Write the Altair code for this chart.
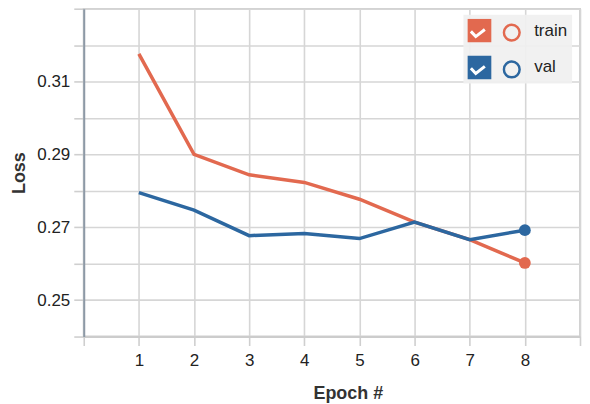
import altair as alt
import pandas as pd

# ---- data ----
epochs = [1, 2, 3, 4, 5, 6, 7, 8]
train_loss = [0.3176, 0.2900, 0.2844, 0.2823, 0.2777, 0.2714, 0.2666, 0.2602]
val_loss = [0.2795, 0.2747, 0.2677, 0.2683, 0.2669, 0.2714, 0.2666, 0.2692]
series_names = ["train", "val"]
series_colors = ["#E2694F", "#2C67A0"]
x_ticks = [0, 1, 2, 3, 4, 5, 6, 7, 8, 9]
y_ticks = [0.24, 0.25, 0.26, 0.27, 0.28, 0.29, 0.30, 0.31, 0.32, 0.33]

rows = []
for name, vals in zip(series_names, [train_loss, val_loss]):
    for e, v in zip(epochs, vals):
        rows.append({"epoch": e, "loss": v, "series": name})
df = pd.DataFrame(rows)

FONT = "Liberation Sans"
check_path = "M-1,-0.25 L-0.3,0.5 L1,-0.52"
sq_names = [s + "_sq" for s in series_names]
ck_names = [s + "_ck" for s in series_names]

x_enc = alt.X(
    "epoch:Q",
    scale=alt.Scale(domain=[0, 9], nice=False, zero=False),
    axis=alt.Axis(
        values=x_ticks,
        title="Epoch #",
        labelExpr="datum.value >= 1 && datum.value <= 8 ? datum.label : ''",
        grid=True,
        tickSize=9,
        labelPadding=7,
        domainColor="#cccccc",
        titleX=265,
        titleY=62,
        titleAlign="center",
        titleBaseline="alphabetic",
    ),
)
y_enc = alt.Y(
    "loss:Q",
    scale=alt.Scale(domain=[0.24, 0.33], nice=False, zero=False),
    axis=alt.Axis(
        values=y_ticks,
        title="Loss",
        labelExpr="(round(datum.value * 100) % 2 == 1 && datum.value < 0.32) ? format(datum.value, '.2f') : ''",
        grid=True,
        tickSize=10,
        labelPadding=4,
        domainColor="#8d99a6",
        titleX=-64,
        titleBaseline="middle",
    ),
)

# filled end points (legend: background box, coloured squares and the labels)
dots = alt.Chart(df).transform_filter(
    alt.datum.epoch == max(epochs)
).transform_calculate(ser1="datum.series + '_sq'").mark_circle(size=140, opacity=1).encode(
    x=x_enc,
    y=y_enc,
    color=alt.Color(
        "ser1:N",
        scale=alt.Scale(domain=sq_names, range=series_colors),
        legend=alt.Legend(
            title=None,
            orient="none",
            legendX=381,
            legendY=6,
            padding=4,
            fillColor="rgba(240,240,240,0.92)",
            symbolType="square",
            symbolSize=576,
            symbolStrokeWidth=0,
            clipHeight=24,
            rowPadding=13,
            labelOffset=43,
            labelExpr="replace(datum.label, '_sq', '')",
            labelColor="#222222",
            labelFontSize=17,
            labelFont=FONT,
        ),
    ),
)

# lines (legend: outlined circles)
lines = alt.Chart(df).mark_line(strokeWidth=3.5).encode(
    x=x_enc,
    y=y_enc,
    stroke=alt.Stroke(
        "series:N",
        scale=alt.Scale(domain=series_names, range=series_colors),
        legend=alt.Legend(
            title=None,
            orient="none",
            legendX=420,
            legendY=12,
            padding=0,
            symbolType="circle",
            symbolSize=250,
            symbolStrokeWidth=2.5,
            symbolFillColor="transparent",
            clipHeight=24,
            rowPadding=13,
            labelExpr="''",
            labelFontSize=1,
        ),
    ),
)

# empty layer that only provides the white check marks in the legend
checks = alt.Chart(df).transform_filter("datum.epoch > 100").transform_calculate(
    ser3="datum.series + '_ck'"
).mark_point(color="white", strokeWidth=3, filled=False).encode(
    x=x_enc,
    y=y_enc,
    shape=alt.Shape(
        "ser3:N",
        scale=alt.Scale(domain=ck_names, range=[check_path, check_path]),
        legend=alt.Legend(
            title=None,
            orient="none",
            legendX=387,
            legendY=12.5,
            padding=0,
            symbolSize=196,
            symbolStrokeColor="white",
            symbolFillColor="transparent",
            symbolStrokeWidth=3,
            symbolOpacity=1,
            clipHeight=24,
            rowPadding=13,
            labelExpr="''",
            labelFontSize=1,
        ),
    ),
)

chart = alt.layer(dots, lines, checks).properties(
    width=498,
    height=329,
    autosize=alt.AutoSizeParams(type="none"),
    padding={"left": 76, "top": 0, "right": 2, "bottom": 67},
).configure_view(
    stroke="#d0d0d0", strokeWidth=2
).configure_axis(
    gridColor="#d6d6d6",
    gridWidth=1.6,
    tickColor="#cfcfcf",
    tickWidth=1.6,
    domainWidth=2,
    labelFont=FONT,
    labelFontSize=17,
    labelColor="#222222",
    titleFont=FONT,
    titleFontSize=18,
    titleFontWeight="bold",
    titleColor="#333333",
).configure_legend(
    labelFont=FONT,
)

chart.save("out.html", embed_options={"renderer": "svg", "actions": False})
